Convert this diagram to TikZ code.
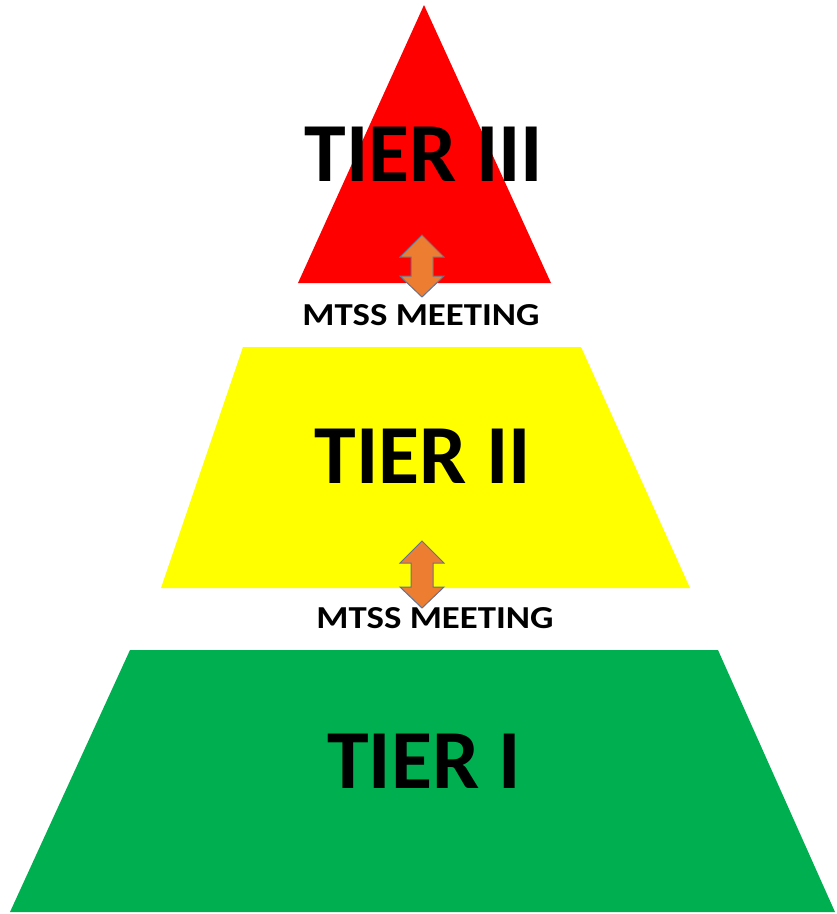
\documentclass[tikz,border=0pt]{standalone}
\usepackage{fontspec}
\setmainfont{Carlito}
\usepackage{tikz}
\usetikzlibrary{positioning,calc}
\usepackage{xcolor}

\definecolor{tierred}{RGB}{255,0,0}
\definecolor{tieryellow}{RGB}{255,255,0}
\definecolor{tiergreen}{RGB}{0,176,80}
\definecolor{arroworange}{RGB}{237,125,49}
\definecolor{arrowedge}{RGB}{100,115,145}

% up-down arrow at (x,top) down to bottom
\newcommand{\tierarrow}[3]{%
  \draw[meetarrow] (#1,#2) -- ++(22,22) -- ++(-11,0) -- (#1+11,#3-21) -- ++(11,0)
    -- (#1,#3) -- ++(-22,-21) -- ++(11,0) -- (#1-11,#2+22) -- ++(-11,0) -- cycle;}

\begin{document}
\begin{tikzpicture}[
    x=1pt, y=-1pt,
    tier/.style={font=\fontsize{84}{86}\selectfont\bfseries, inner sep=0pt},
    meeting/.style={font=\fontsize{32}{34}\selectfont\bfseries, inner sep=0pt, xscale=1.15},
    meetarrow/.style={fill=arroworange, draw=arrowedge, line width=1pt, line join=miter}
]
    \useasboundingbox (0,0) rectangle (837,914);
    % tiers
    \fill[tierred] (424,5) -- (551,283) -- (298,283) -- cycle;
    \fill[tieryellow] (243,347) -- (581,347) -- (690,588) -- (161,588) -- cycle;
    \fill[tiergreen] (130,650) -- (718,650) -- (835,912) -- (10,912) -- cycle;

    \node[tier] (tier3) at (424,154) {TIER III};
    \node[tier] (tier2) at (423,456) {TIER II};
    \node[tier] (tier1) at (424,761) {TIER I};

    % meetings
    \tierarrow{422}{235}{297}
    \tierarrow{422}{541}{608}
    \node[meeting] (meet1) at (421,315) {MTSS MEETING};
    \node[meeting] (meet2) at (435,618) {MTSS MEETING};
\end{tikzpicture}
\end{document}
